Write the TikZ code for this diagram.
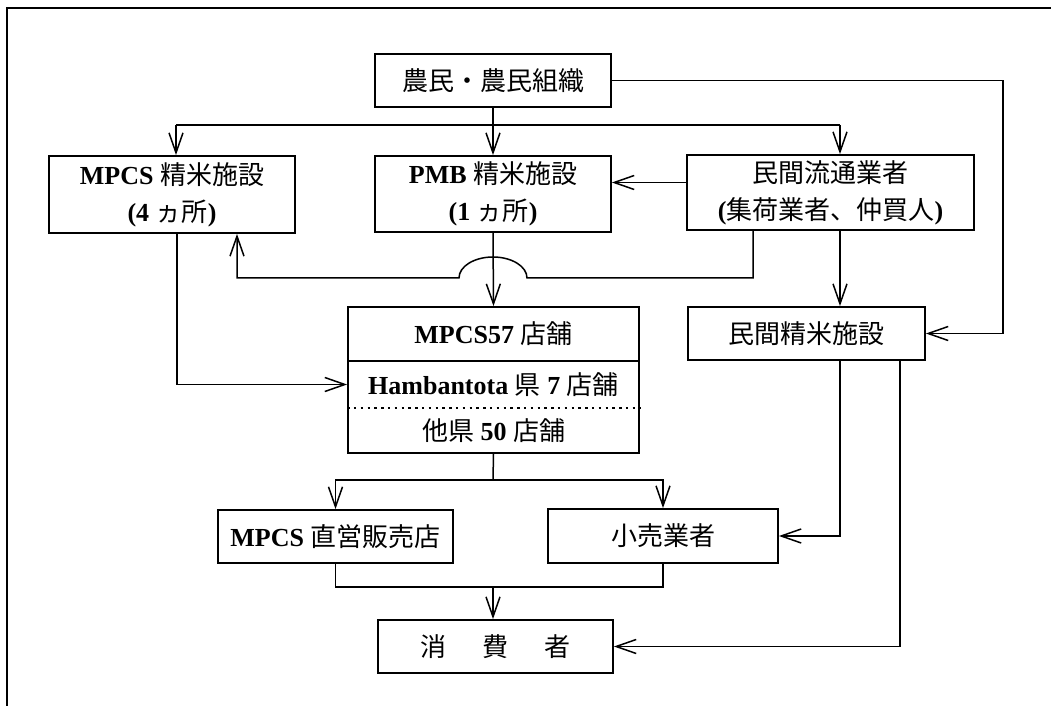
\documentclass[tikz,border=0pt]{standalone}
\usepackage{fontspec}
\setmainfont{Liberation Serif}
\newfontfamily\jpfont{Noto Sans CJK JP}
\usetikzlibrary{arrows.meta}
\newcommand{\jp}[1]{{\jpfont\mdseries #1}}

\begin{document}
\begin{tikzpicture}[x=0.5pt, y=-0.5pt,
    box/.style={draw, line width=0.9pt, inner sep=0pt, align=center,
      font=\fontsize{13pt}{18.5pt}\selectfont\bfseries},
    txt/.style={inner sep=0pt, font=\fontsize{13pt}{16pt}\selectfont\bfseries},
    link/.style={line width=0.75pt, line join=miter},
    flow/.style={link, -{Straight Barb[length=10pt, width=7pt]}},
    frame/.style={line width=1.3pt}]
  \useasboundingbox (0,0) rectangle (1051,706);
  \draw[frame] (7,706) -- (7,8) -- (1051,8);

  % upper row
  \node[box, minimum width=118pt, minimum height=26.5pt] (farm) at (493,80.5) {\jp{農民・農民組織}};
  \node[box, minimum width=123pt, minimum height=38.5pt] (mpcsmill) at (172,194.5)
    {MPCS \jp{精米施設}\\(4 \jp{ヵ所})};
  \node[box, minimum width=118pt, minimum height=38pt] (pmbmill) at (493,194)
    {PMB \jp{精米施設}\\(1 \jp{ヵ所})};
  \node[box, minimum width=143.5pt, minimum height=37.5pt] (trader) at (830.5,192.5)
    {\jp{民間流通業者}\\(\jp{集荷業者、仲買人})};

  % middle row: the shop box has three rows
  \node[box, minimum width=145.5pt, minimum height=73pt] (shops) at (493.5,380) {};
  \node[txt] (shopsa) at (493.5,334) {MPCS57 \jp{店舗}};
  \node[txt] (shopsb) at (493.5,384.5) {Hambantota \jp{県} 7 \jp{店舗}};
  \node[txt] (shopsc) at (493.5,430.5) {\jp{他県} 50 \jp{店舗}};
  \draw[link, line width=0.9pt] (shops.west |- 0,361) -- (shops.east |- 0,361);
  \draw[link, line width=1pt, dash pattern=on 1.2pt off 2.2pt] (shops.west |- 0,408) -- (shops.east |- 0,408);
  \node[box, minimum width=118.5pt, minimum height=26.5pt] (pmill) at (806.5,333.5) {\jp{民間精米施設}};

  % lower rows
  \node[box, minimum width=117.5pt, minimum height=26.5pt] (direct) at (335.5,536.5) {MPCS \jp{直営販売店}};
  \node[box, minimum width=115pt, minimum height=27pt] (retail) at (663,536) {\jp{小売業者}};
  \node[box, minimum width=117.5pt, minimum height=26.5pt] (consumer) at (495.5,646.5)
    {\jp{消\hspace{1.4em}費\hspace{1.4em}者}};

  % connectors
  \coordinate (forkl) at (176,125);
  \coordinate (forkr) at (840,125);
  \coordinate (rim) at (1003,200);
  \coordinate (hopr) at (527,278);
  \coordinate (loop) at (237,278);
  \coordinate (split) at (493,480);
  \coordinate (merge) at (493,587);

  \draw[flow] (farm.south) -- (pmbmill.north);
  \draw[link] (forkl) -- (forkr);
  \draw[flow] (forkl) -- (forkl |- mpcsmill.north);
  \draw[flow] (forkr) -- (forkr |- trader.north);
  \draw[flow] (farm.east) -| (rim) |- (pmill.east);
  \draw[flow] ([yshift=5pt]trader.west) -- ([yshift=5pt]trader.west -| pmbmill.east);
  \draw[flow] ([xshift=-38.75pt]trader.south) |- (hopr)
    arc[start angle=0, end angle=180, x radius=17pt, y radius=10.5pt] -- (loop) -- (loop |- mpcsmill.south);
  \draw[flow] ([xshift=4.75pt]trader.south) -- ([xshift=4.75pt]trader.south |- pmill.north);
  \draw[flow] (pmbmill.south) -- (shops.north);
  \draw[flow] ([xshift=2.5pt]mpcsmill.south) |- (shops.west |- shopsb);
  \draw[link] (shops.south) -- (split);
  \draw[flow] (split) -| (direct.north);
  \draw[flow] (split) -| (retail.north);
  \draw[flow] ([xshift=16.75pt]pmill.south) |- (retail.east);
  \draw[flow] ([xshift=46.75pt]pmill.south) |- (consumer.east);
  \draw[link] (direct.south) |- (merge) -| (retail.south);
  \draw[flow] (merge) -- (merge |- consumer.north);
\end{tikzpicture}
\end{document}
